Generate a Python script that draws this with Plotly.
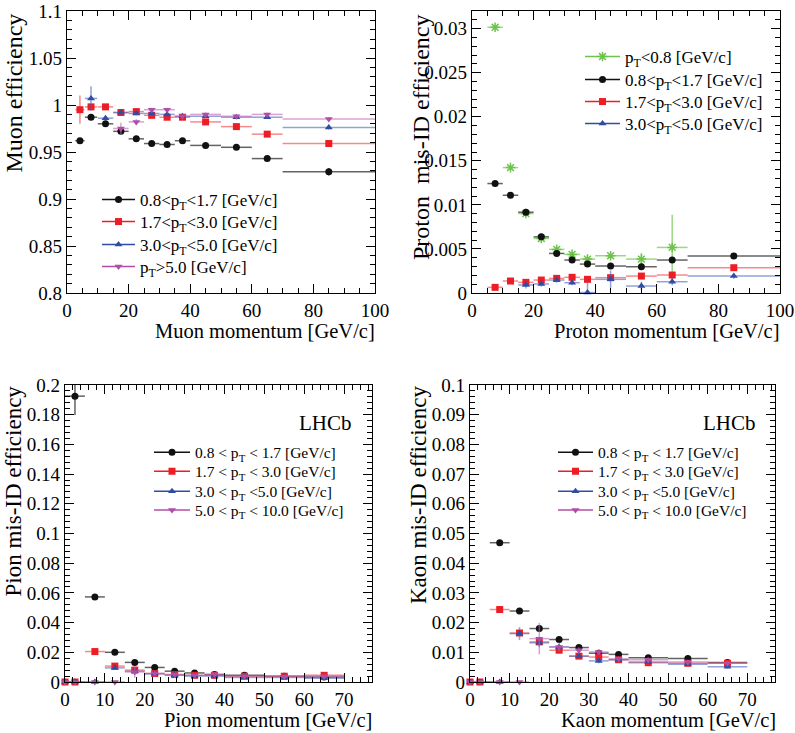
import plotly.graph_objects as go

# ---------------- data ----------------
# Muon efficiency (top-left)
mu_x = [4.2, 7.8, 12.5, 17.5, 22.5, 27.5, 32.5, 37.5, 45, 55, 65, 85]
mu_xerr = [1.5, 2, 2.5, 2.5, 2.5, 2.5, 2.5, 2.5, 5, 5, 5, 15]
mu_black = [0.962, 0.987, 0.980, 0.972, 0.964, 0.959, 0.958, 0.962, 0.957, 0.955, 0.943, 0.929]
mu_black_err = [0.002, 0.002, 0.002, 0.002, 0.002, 0.002, 0.002, 0.002, 0.002, 0.002, 0.003, 0.004]
mu_red = [0.995, 0.998, 0.998, 0.992, 0.993, 0.989, 0.987, 0.987, 0.982, 0.977, 0.969, 0.959]
mu_red_err = [0.015, 0.002, 0.002, 0.002, 0.002, 0.002, 0.002, 0.002, 0.002, 0.002, 0.002, 0.002]
mu_blue = [1.007, 0.986, 0.992, 0.991, 0.991, 0.990, 0.988, 0.988, 0.987, 0.987, 0.976]
mu_blue_err = [0.013, 0.002, 0.002, 0.002, 0.002, 0.002, 0.002, 0.002, 0.002, 0.002, 0.002]
mu_mag = [0.975, 0.982, 0.995, 0.995, 0.988, 0.990, 0.988, 0.990, 0.985]
mu_mag_err = [0.006, 0.003, 0.002, 0.002, 0.002, 0.002, 0.002, 0.002, 0.002]

# Proton mis-ID (top-right)
pr_x = [7.5, 12.5, 17.5, 22.5, 27.5, 32.5, 37.5, 45, 55, 65, 85]
pr_xerr = [2.5, 2.5, 2.5, 2.5, 2.5, 2.5, 2.5, 5, 5, 5, 15]
pr_green = [0.03015, 0.01423, 0.00902, 0.00619, 0.00495, 0.00438, 0.00385, 0.00423, 0.00385, 0.00517]
pr_green_err = [0.0002, 0.0002, 0.0002, 0.0002, 0.0002, 0.0002, 0.0002, 0.0002, 0.0007, 0.0037]
pr_black = [0.01242, 0.01109, 0.00917, 0.00637, 0.00449, 0.00374, 0.00328, 0.00306, 0.00298, 0.00374, 0.00419]
pr_black_err = [0.0002, 0.0002, 0.0002, 0.0002, 0.0002, 0.0002, 0.0002, 0.0002, 0.0002, 0.0003, 0.0003]
pr_red = [0.00064, 0.00136, 0.00121, 0.00147, 0.00166, 0.00178, 0.00155, 0.00174, 0.00192, 0.00204, 0.00287]
pr_red_err = [0.0001, 0.0001, 0.0001, 0.0001, 0.0001, 0.0001, 0.0001, 0.0002, 0.0002, 0.0002, 0.0002]
pr_blue = [0.00091, 0.00102, 0.00147, 0.00117, 0.00005, 0.00155, 0.00079, 0.00128, 0.00192]
pr_blue_err = [0.0004, 0.0003, 0.0003, 0.0003, 0.0014, 0.0010, 0.0005, 0.0004, 0.0003]

# Pion mis-ID (bottom-left)
pi_x = [0, 2.5, 7.5, 12.5, 17.5, 22.5, 27.5, 32.5, 37.5, 45, 55, 65]
pi_xerr = [0, 2.5, 2.5, 2.5, 2.5, 2.5, 2.5, 2.5, 2.5, 5, 5, 5]
pi_black = [0.1925, 0.0573, 0.0200, 0.0132, 0.0098, 0.0073, 0.0061, 0.0050, 0.0046, 0.0038, 0.0034]
pi_black_err = [0.0127, 0.0015, 0.0010, 0.0010, 0.0008, 0.0006, 0.0006, 0.0005, 0.0005, 0.0005, 0.0005]
pi_red = [0, 0, 0.0205, 0.0107, 0.0080, 0.0057, 0.0050, 0.0045, 0.0045, 0.0039, 0.0039, 0.0045]
pi_blue = [0, 0, 0, 0.0095, 0.0072, 0.0055, 0.0045, 0.0040, 0.0040, 0.0030, 0.0030, 0.0025]
pi_mag = [0, 0, 0, 0, 0.0068, 0.0058, 0.0050, 0.0045, 0.0052, 0.0038, 0.0035, 0.0038]
pi_red_err = [0, 0, 0.0010, 0.0010, 0.0010, 0.0008, 0.0006, 0.0006, 0.0006, 0.0005, 0.0005, 0.0005]
pi_blue_err = [0, 0, 0, 0.0012, 0.0012, 0.0010, 0.0008, 0.0008, 0.0008, 0.0006, 0.0006, 0.0006]
pi_mag_err = [0, 0, 0, 0, 0.0040, 0.0015, 0.0010, 0.0010, 0.0010, 0.0008, 0.0008, 0.0008]

# Kaon mis-ID (bottom-right)
ka_x = [0, 2.5, 7.5, 12.5, 17.5, 22.5, 27.5, 32.5, 37.5, 45, 55, 65]
ka_xerr = [0, 2.5, 2.5, 2.5, 2.5, 2.5, 2.5, 2.5, 2.5, 5, 5, 5]
ka_black = [0.0469, 0.0239, 0.0180, 0.0143, 0.0116, 0.0097, 0.0093, 0.0082, 0.0079, 0.0066]
ka_black_err = [0.0006, 0.0006, 0.0010, 0.0006, 0.0005, 0.0005, 0.0005, 0.0004, 0.0004, 0.0004]
ka_red = [0, 0, 0.0244, 0.0165, 0.0135, 0.0107, 0.0087, 0.0084, 0.0075, 0.0065, 0.0063, 0.0063]
ka_blue = [0, 0, 0, 0.0163, 0.0132, 0.0118, 0.0087, 0.0071, 0.0075, 0.0067, 0.0060, 0.0051]
ka_mag = [0, 0, 0, 0, 0.0146, 0.0118, 0.0107, 0.0101, 0.0078, 0.0075, 0.0067, 0.0063]
ka_red_err = [0, 0, 0.0008, 0.0010, 0.0010, 0.0008, 0.0006, 0.0006, 0.0005, 0.0005, 0.0005, 0.0008]
ka_blue_err = [0, 0, 0, 0.0022, 0.0015, 0.0010, 0.0008, 0.0008, 0.0006, 0.0006, 0.0006, 0.0006]
ka_mag_err = [0, 0, 0, 0, 0.0053, 0.0015, 0.0010, 0.0010, 0.0008, 0.0008, 0.0008, 0.0008]

leg_top = ["0.8&lt;p<sub>T</sub>&lt;1.7 [GeV/c]", "1.7&lt;p<sub>T</sub>&lt;3.0 [GeV/c]",
           "3.0&lt;p<sub>T</sub>&lt;5.0 [GeV/c]", "p<sub>T</sub>&gt;5.0 [GeV/c]"]
leg_pr = ["p<sub>T</sub>&lt;0.8 [GeV/c]", "0.8&lt;p<sub>T</sub>&lt;1.7 [GeV/c]",
          "1.7&lt;p<sub>T</sub>&lt;3.0 [GeV/c]", "3.0&lt;p<sub>T</sub>&lt;5.0 [GeV/c]"]
leg_bot = ["0.8 &lt; p<sub>T</sub> &lt; 1.7 [GeV/c]", "1.7 &lt; p<sub>T</sub> &lt; 3.0 [GeV/c]",
           "3.0 &lt; p<sub>T</sub> &lt;5.0 [GeV/c]", "5.0 &lt; p<sub>T</sub> &lt; 10.0 [GeV/c]"]

# ---------------- styles ----------------
FONT = "Liberation Serif"
C = dict(black="#111111", red="#ee1c24", blue="#2e4da3", mag="#b04ea6", green="#6cc24a")
CE = dict(black="rgba(60,60,60,0.8)", red="rgba(238,60,60,0.6)", blue="rgba(70,100,190,0.6)",
          mag="rgba(190,100,180,0.6)", green="rgba(110,200,80,0.7)")
SYM = dict(black=("circle", 7), red=("square", 7), blue=("triangle-up", 7),
           mag=("triangle-down", 7), green=("asterisk-open", 8))

W, H = 795, 733


def px(xp):
    return xp / W


def py(yp):
    return 1 - yp / H


fig = go.Figure()


def mk(key):
    sym, sz = SYM[key]
    marker = dict(symbol=sym, size=sz, color=C[key])
    if key == "green":
        marker["line"] = dict(color=C[key], width=1.5)
    else:
        marker["line"] = dict(width=0)
    return marker


def add(x, y, xerr, yerr, key, xa, ya):
    fig.add_trace(go.Scatter(
        x=x, y=y, mode="markers", marker=mk(key), showlegend=False, cliponaxis=False,
        error_x=dict(type="data", array=xerr, color=CE[key], thickness=1.5, width=0),
        error_y=dict(type="data", array=yerr, color=CE[key], thickness=1.5, width=0),
        xaxis=xa, yaxis=ya))


# top-left
add(mu_x, mu_black, mu_xerr, mu_black_err, "black", "x", "y")
add(mu_x, mu_red, mu_xerr, mu_red_err, "red", "x", "y")
add(mu_x[1:], mu_blue, mu_xerr[1:], mu_blue_err, "blue", "x", "y")
add(mu_x[3:], mu_mag, mu_xerr[3:], mu_mag_err, "mag", "x", "y")
# top-right
add(pr_x[:10], pr_green, pr_xerr[:10], pr_green_err, "green", "x2", "y2")
add(pr_x, pr_black, pr_xerr, pr_black_err, "black", "x2", "y2")
add(pr_x, pr_red, pr_xerr, pr_red_err, "red", "x2", "y2")
add(pr_x[2:], pr_blue, pr_xerr[2:], pr_blue_err, "blue", "x2", "y2")
# bottom-left
add(pi_x[1:], pi_black, pi_xerr[1:], pi_black_err, "black", "x3", "y3")
add(pi_x, pi_red, pi_xerr, pi_red_err, "red", "x3", "y3")
add(pi_x, pi_blue, pi_xerr, pi_blue_err, "blue", "x3", "y3")
add(pi_x, pi_mag, pi_xerr, pi_mag_err, "mag", "x3", "y3")
# bottom-right
add(ka_x[2:], ka_black, ka_xerr[2:], ka_black_err, "black", "x4", "y4")
add(ka_x, ka_red, ka_xerr, ka_red_err, "red", "x4", "y4")
add(ka_x, ka_blue, ka_xerr, ka_blue_err, "blue", "x4", "y4")
add(ka_x, ka_mag, ka_xerr, ka_mag_err, "mag", "x4", "y4")

# one legend per row so that row spacing matches the original
legends = {}
leg_counter = [0]


def legend_block(names, keys, x0, rows, size, iw):
    for name, key, yr in zip(names, keys, rows):
        leg_counter[0] += 1
        lid = "legend" if leg_counter[0] == 1 else "legend%d" % leg_counter[0]
        legends[lid] = dict(x=px(x0), y=py(yr), xanchor="left", yanchor="middle",
                            bgcolor="rgba(0,0,0,0)", borderwidth=0, itemwidth=iw,
                            font=dict(family=FONT, size=size, color="black"))
        fig.add_trace(go.Scatter(x=[None], y=[None], mode="lines+markers", name=name,
                                 line=dict(color=C[key], width=1.5), marker=mk(key),
                                 legend=lid, xaxis="x", yaxis="y"))


legend_block(leg_top, ["black", "red", "blue", "mag"], 97, [200, 222, 245, 267], 17, 33)
legend_block(leg_pr, ["green", "black", "red", "blue"], 580, [57, 80, 102, 124], 17, 35)
legend_block(leg_bot, ["black", "red", "blue", "mag"], 149, [452.7, 471.7, 491.7, 510.5], 15.5, 36)
legend_block(leg_bot, ["black", "red", "blue", "mag"], 553, [452.7, 471.7, 491.7, 510.5], 15.5, 35)


def axis(dom, rng, dtick, mdtick, anchor, t0=0):
    return dict(domain=dom, range=rng, anchor=anchor, showgrid=False, zeroline=False,
                showline=True, linecolor="black", linewidth=1.2, mirror="ticks",
                ticks="inside", ticklen=9, tickwidth=1, tickcolor="black",
                tickmode="linear", tick0=t0, dtick=dtick,
                minor=dict(ticks="inside", ticklen=5, tickwidth=1, tickcolor="black",
                           tickmode="linear", tick0=t0, dtick=mdtick, showgrid=False),
                tickfont=dict(family=FONT, size=19, color="black"),
                ticklabelstandoff=0)


TL = (67, 375, 11, 293)
TR = (472, 780, 11, 293)
BL = (65, 372, 385, 682)
BR = (470, 775, 385, 682)

lay = dict(
    width=W, height=H, margin=dict(l=0, r=0, t=0, b=0, pad=0, autoexpand=False),
    paper_bgcolor="white", plot_bgcolor="white",
    font=dict(family=FONT, color="black"),
    xaxis=axis([px(TL[0]), px(TL[1])], [0, 100], 20, 5, "y"),
    yaxis=axis([py(TL[3]), py(TL[2])], [0.8, 1.1], 0.05, 0.01, "x", t0=0.8),
    xaxis2=axis([px(TR[0]), px(TR[1])], [0, 100], 20, 5, "y2"),
    yaxis2=axis([py(TR[3]), py(TR[2])], [0, 0.032], 0.005, 0.001, "x2"),
    xaxis3=axis([px(BL[0]), px(BL[1])], [0, 77], 10, 2, "y3"),
    yaxis3=axis([py(BL[3]), py(BL[2])], [0, 0.2], 0.02, 0.004, "x3"),
    xaxis4=axis([px(BR[0]), px(BR[1])], [0, 77], 10, 2, "y4"),
    yaxis4=axis([py(BR[3]), py(BR[2])], [0, 0.1], 0.01, 0.002, "x4"),
)
lay.update(legends)

ann = []


def text(s, xp, yp, xa="center", ya="middle", size=20.5, angle=0):
    ann.append(dict(text=s, x=px(xp), y=py(yp), xref="paper", yref="paper",
                    xanchor=xa, yanchor=ya, showarrow=False, textangle=angle,
                    font=dict(family=FONT, size=size, color="black")))


text("Muon momentum [GeV/c]", 377, 331, xa="right")
text("Proton momentum [GeV/c]", 781, 331, xa="right")
text("Pion momentum [GeV/c]", 374, 720, xa="right")
text("Kaon momentum [GeV/c]", 778, 720, xa="right")
text("Muon efficiency", 13, 12, ya="top", angle=-90, size=24)
text("Proton\u00a0 mis-ID efficiency", 421, 12, ya="top", angle=-90, size=24)
text("Pion mis-ID efficiency", 13, 384, ya="top", angle=-90, size=23)
text("Kaon mis-ID efficiency", 418, 384, ya="top", angle=-90, size=23)
text("LHCb", 325, 423, size=21)
text("LHCb", 729, 423, size=21)
lay["annotations"] = ann

fig.update_layout(**lay)
fig.write_html("out.html", config={"displayModeBar": False},
               post_script="document.body.style.margin='0';document.body.style.padding='0';")
